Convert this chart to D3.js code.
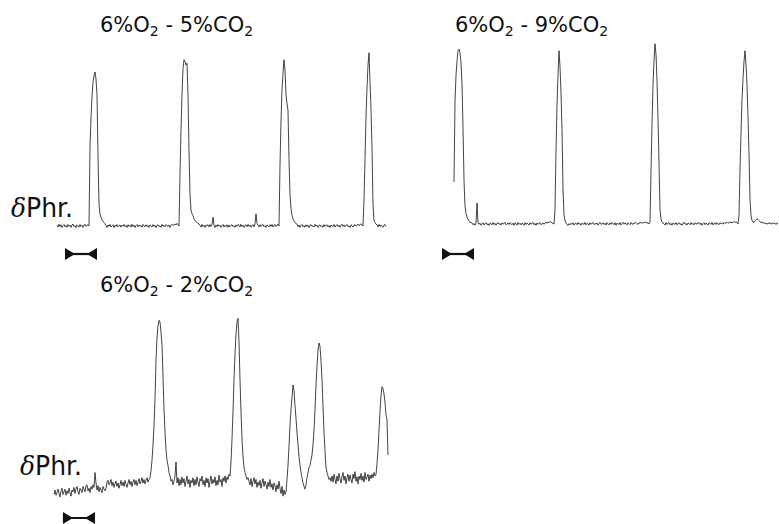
<!DOCTYPE html>
<html>
<head>
<meta charset="utf-8">
<script src="https://d3js.org/d3.v7.min.js"></script>
<style>
body { margin:0; background:#fff; }
text { font-family:"DejaVu Sans", sans-serif; fill:#111; }
</style>
</head>
<body>
<div id="chart-area"></div>
<script>
//Data: integrated phrenic activity (arbitrary units, 0 = baseline), one sample every 1/32 s

//6% O2 - 5% CO2
var trace5 = [0.4,-0.6,1.0,-0.3,0.7,-0.9,0.2,0.8,-0.5,0.3,
    -0.7,0.9,-0.2,0.5,-0.8,0.6,1.1,-0.4,0.2,-0.9,
    0.7,0.1,-0.6,0.9,-0.3,0.4,-0.8,0.5,1.0,-0.2,
    0.3,0.8,
    0,45,62,74,82,86,88,84,75,40,12,7,5,3.5,2.5,2,
    1.2,0.3,-0.8,0.6,-0.2,0.9,-0.6,0.1,0.7,-0.9,
    0.4,-0.3,0.8,-0.5,0.2,0.6,-0.7,0.5,-0.1,0.9,
    -0.4,0.3,-0.8,0.7,-0.2,0.4,-0.6,1.0,-0.3,0.5,
    -0.9,0.2,0.8,-0.4,0.6,-0.1,0.3,-0.7,0.9,0.1,
    -0.5,0.7,-0.3,0.4,-0.8,0.6,0.2,-0.6,0.8,-0.2,
    0.5,-0.9,0.3,0.7,-0.4,0.1,-0.7,0.9,-0.1,0.4,
    -0.5,0.8,0.2,-0.3,0.6,-0.8,0.4,1.0,0.3,0.7,
    1.2,0.6,1.5,0.8,
    0,30,55,75,90,95,94,92,93,75,43,18,9,7,6,4,3,2.5,2,1.5,
    1.2,0.5,-0.6,0.9,-0.3,0.4,-0.8,0.6,0.2,0.7,
    -0.5,0.9,-0.2,0.8,5,0.3,-0.9,0.6,-0.4,0.8,
    -0.1,0.5,-0.7,0.2,0.9,-0.6,0.4,-0.3,0.7,-0.8,
    0.6,-0.5,0.3,0.8,-0.4,0.1,-0.7,0.6,-0.2,0.9,
    0.4,-0.6,1.0,-0.3,0.5,-0.8,0.2,0.7,-0.4,0.9,
    -0.2,0.6,-0.7,0.3,0.8,-0.5,1.2,7,1.5,0.4,
    -0.6,0.8,-0.3,0.5,0.9,-0.4,0.2,-0.8,0.6,0.1,
    -0.5,0.7,-0.2,0.9,-0.6,0.4,0.8,-0.3,0.5,1.0,
    0,35,60,78,87,95,89,75,70,66,38,18,10,6,4,3,2,1.5,
    1.0,-0.4,0.6,-0.8,0.3,0.9,-0.5,0.2,-0.7,0.7,
    -0.2,0.5,-0.9,0.4,0.8,-0.3,0.1,-0.6,0.9,-0.1,
    0.5,-0.8,0.3,0.6,-0.4,0.2,-0.7,0.8,-0.3,0.4,
    0.7,-0.5,0.3,-0.9,0.6,0.1,-0.4,0.9,-0.6,0.2,
    0.8,-0.3,0.5,-0.7,0.4,1.0,-0.2,0.6,-0.5,0.3,
    0.9,-0.4,0.1,-0.8,0.7,0.2,-0.6,0.5,0.8,-0.1,
    0.4,1.1,0.2,0.7,1.3,0.5,
    0,15,38,62,79,92,99,82,67,45,12,3,2,1,
    0.8,-0.5,0.9,-0.3,0.6,0.1,-0.7,0.5,0.9,-0.2];

//6% O2 - 9% CO2
var trace9 = [24,70,85,93,99,100,98,92,80,55,25,10,6,4,2.5,2,1,0.8,
    0.6,-0.4,0.3,-0.7,0.5,12,0.8,-0.2,0.5,-0.7,
    0.2,0.8,-0.6,0.3,0.7,-0.4,0.1,-0.8,0.6,0.2,
    -0.5,0.9,-0.3,0.4,-0.7,0.5,0.8,-0.2,0.3,-0.6,
    0.7,-0.1,0.4,0.9,-0.5,0.2,0.6,-0.3,0.8,0.1,
    -0.4,0.5,-0.8,0.7,0.3,-0.6,0.9,-0.2,0.4,-0.5,
    0.6,0.1,-0.7,0.8,-0.3,0.5,0.2,-0.6,0.7,-0.1,
    0.4,0.9,-0.4,0.3,-0.8,0.6,-0.2,0.5,0.8,-0.5,
    0.3,0.7,-0.2,0.6,1.0,0.4,1.2,0.7,1.5,1.0,
    0.6,0.3,
    0,8,42,68,85,99,90,75,54,20,5,2,0.5,
    -0.3,-0.8,0.2,-0.5,0.4,-0.2,0.7,-0.6,0.1,0.5,
    -0.4,0.8,-0.1,0.3,-0.7,0.6,0.2,-0.3,0.9,-0.5,
    0.4,0.1,-0.6,0.7,-0.2,0.5,0.8,-0.4,0.3,-0.1,
    0.6,-0.7,0.4,0.9,-0.2,0.2,0.7,-0.3,0.5,-0.6,
    0.8,0.1,-0.5,0.6,-0.2,0.9,0.3,-0.4,0.7,-0.8,
    0.5,0.2,-0.3,0.8,-0.6,0.4,1.0,-0.1,0.6,0.3,
    -0.5,0.7,0.2,-0.4,0.9,0.1,-0.2,0.6,0.4,0.8,
    0.2,-0.3,0.7,0.5,1.1,0.3,0.9,0.6,1.2,0.8,
    0.5,0.7,
    0,1,30,57,80,93,103,97,82,60,35,8,3,1,0.5,
    0.2,-0.6,0.8,-0.3,0.5,0.9,-0.4,0.3,-0.7,0.6,
    0.1,-0.2,0.8,-0.5,0.4,0.7,-0.3,0.2,-0.8,0.5,
    0.9,-0.1,0.3,-0.6,0.6,0.2,-0.4,0.8,-0.2,0.4,
    -0.5,0.7,0.3,-0.1,0.9,0.5,-0.3,0.6,-0.7,0.2,
    0.8,-0.4,0.5,0.1,-0.6,0.7,0.3,-0.2,0.9,-0.5,
    0.4,0.6,-0.3,0.8,0.1,-0.4,0.7,0.2,0.5,-0.1,
    0.9,0.3,0.6,1.0,0.4,0.8,1.3,0.6,1.1,0.7,
    1.5,0.9,1.2,0.8,
    0,5,31,52,71,83,93,99,91,80,61,40,14,5,2,1,
    1.0,1.8,2.5,3,2.6,2,1.2,0.8,1.2,0.4,
    0.9,0.2,0.6,-0.2,0.5,0.3,0.8,-0.1,0.4,0.7,
    0.2,0.5,-0.3,0.6,0.3];

//6% O2 - 2% CO2
var trace2 = [-2.5,0,-3,-1.5,0.5,-2,-4,-0.5,1,-2.5,
    -1,0.5,-3,-0.5,-2,1,-1.5,-3.5,0,-1,
    1.5,-2,0.5,2,-1,-2.5,1,0,-1.5,2,
    0.5,-1,2.5,3,-0.5,1,-1.5,2,0.5,3,
    1.5,10,4,0,2.5,-1,1.5,0,-1.5,2,
    0.5,-0.5,1,4.5,5.5,3,4,6,2.5,4.5,
    1.5,3.5,5,2,4,1,3,5.5,2.5,4.5,
    2,5.5,3.5,1.5,4,6,3,5,2,4.5,
    6,3,5.5,2.5,4.5,6.5,3.5,5,7,4,
    6,3.5,5.5,7,4.5,6,
    7,11,17,26,37,52,74,87,94,97,96,90,83,65,46,33,23,17,14,10,8,5,6,3,
    5,8,16,4,7,2.5,6,3,7.5,4,
    6.5,2,5,8,3.5,6,1.5,5.5,4,7,
    2.5,6,3,7.5,4.5,2,6.5,5,8,3,
    5.5,2,7,4,6.5,1.5,5,8,3.5,6,
    4,7.5,2.5,5.5,3,8.5,4.5,6,2,7,
    5,8,4,7.5,6,9,
    8,16,29,45,63,78,89,96,98,85,63,45,29,19,13,10,8,6,7,5,
    3,6.5,2,5,7,3.5,6,1.5,4.5,2.5,
    5.5,1,4,6.5,2,5,3,0.5,4.5,2,
    6,1.5,3.5,0,4,2.5,-1,3,0.5,5,
    1,-2,2,-3.5,0,-2.5,
    -1,6,14,25,37,46,53,60,57,48,41,33,26,19,14,10,7,4,2,0.5,3,
    7,10,13,14,17,20,26,34,46,60,71,80,84,82,74,63,48,33,22,13,10,8,6,7,5,
    8,4.5,9,6,3.5,8,5,9.5,6.5,4,
    7.5,10,5.5,8,3.5,7,9,5,8.5,6,
    4,9,6.5,10.5,5,7.5,3.5,8,6,9.5,
    5.5,8,4.5,10,6,7.5,9,5,8.5,6.5,
    9,7,10,8,
    9,15,23,34,45,54,59,58,55,50,43,40,20];

//Labels
var o2Levels = ["6", "6", "6"];
var co2Levels = ["5", "9", "2"];
var yLabel = "Phr.";
var barSeconds = 1;
var dt = 1/32;

//Layout of the three panels (pixels)
var panels = [
    { data: trace5, x0: 57, base: 226, titleX: 100, titleY: 32, labelX: 11, labelY: 217, bar: [0.25, 254], showLabel: true },
    { data: trace9, x0: 454, base: 224, titleX: 455, titleY: 32, labelX: 0, labelY: 0, bar: [-0.375, 254], showLabel: false },
    { data: trace2, x0: 54, base: 490, titleX: 100, titleY: 292, labelX: 20, labelY: 475, bar: [0.28, 518], showLabel: true }
];
var pxPerSample = 1,
    ampHeight = 175;

//Svg container
var svg = d3.select("#chart-area").append("svg")
    .attr("width", 779)
    .attr("height", 524);

panels.forEach(function(p, k) {

    //Scales
    var xScale = d3.scaleLinear()
        .domain([0, (p.data.length - 1) * dt])
        .range([p.x0, p.x0 + (p.data.length - 1) * pxPerSample]);
    var yScale = d3.scaleLinear()
        .domain([0, 100])
        .range([p.base, p.base - ampHeight]);

    var line = d3.line()
        .x(function(d, i) { return xScale(i * dt); })
        .y(function(d) { return yScale(d); });

    //trace
    svg.append("path")
        .attr("class", "trace")
        .attr("d", line(p.data))
        .attr("fill", "none")
        .attr("stroke", "#222")
        .attr("stroke-width", 0.85)
        .attr("stroke-linejoin", "round");

    //title with subscripts
    var title = svg.append("text")
        .attr("x", p.titleX)
        .attr("y", p.titleY)
        .attr("font-size", 21);
    title.append("tspan").text(o2Levels[k] + "%O");
    title.append("tspan").attr("font-size", 14).attr("dy", 4).text("2");
    title.append("tspan").attr("dy", -4).text(" - " + co2Levels[k] + "%CO");
    title.append("tspan").attr("font-size", 14).attr("dy", 4).text("2");

    //y label
    if (p.showLabel) {
        var lab = svg.append("text")
            .attr("x", p.labelX)
            .attr("y", p.labelY)
            .attr("font-size", 26)
            .attr("textLength", 62)
            .attr("lengthAdjust", "spacingAndGlyphs");
        lab.append("tspan")
            .attr("font-family", "DejaVu Serif")
            .attr("font-style", "italic")
            .text("\u03b4");
        lab.append("tspan").text(yLabel);
    }

    //time scale bar
    var xa = xScale(p.bar[0]),
        xb = xScale(p.bar[0] + barSeconds),
        yb = p.bar[1];
    svg.append("line")
        .attr("x1", xa).attr("x2", xb)
        .attr("y1", yb).attr("y2", yb)
        .attr("stroke", "#111")
        .attr("stroke-width", 2.2);
    svg.append("path")
        .attr("d", "M" + xa + "," + (yb - 6) + "L" + (xa + 10) + "," + yb + "L" + xa + "," + (yb + 6) + "Z")
        .attr("fill", "#111");
    svg.append("path")
        .attr("d", "M" + xb + "," + (yb - 6) + "L" + (xb - 10) + "," + yb + "L" + xb + "," + (yb + 6) + "Z")
        .attr("fill", "#111");
});
</script>
</body>
</html>
